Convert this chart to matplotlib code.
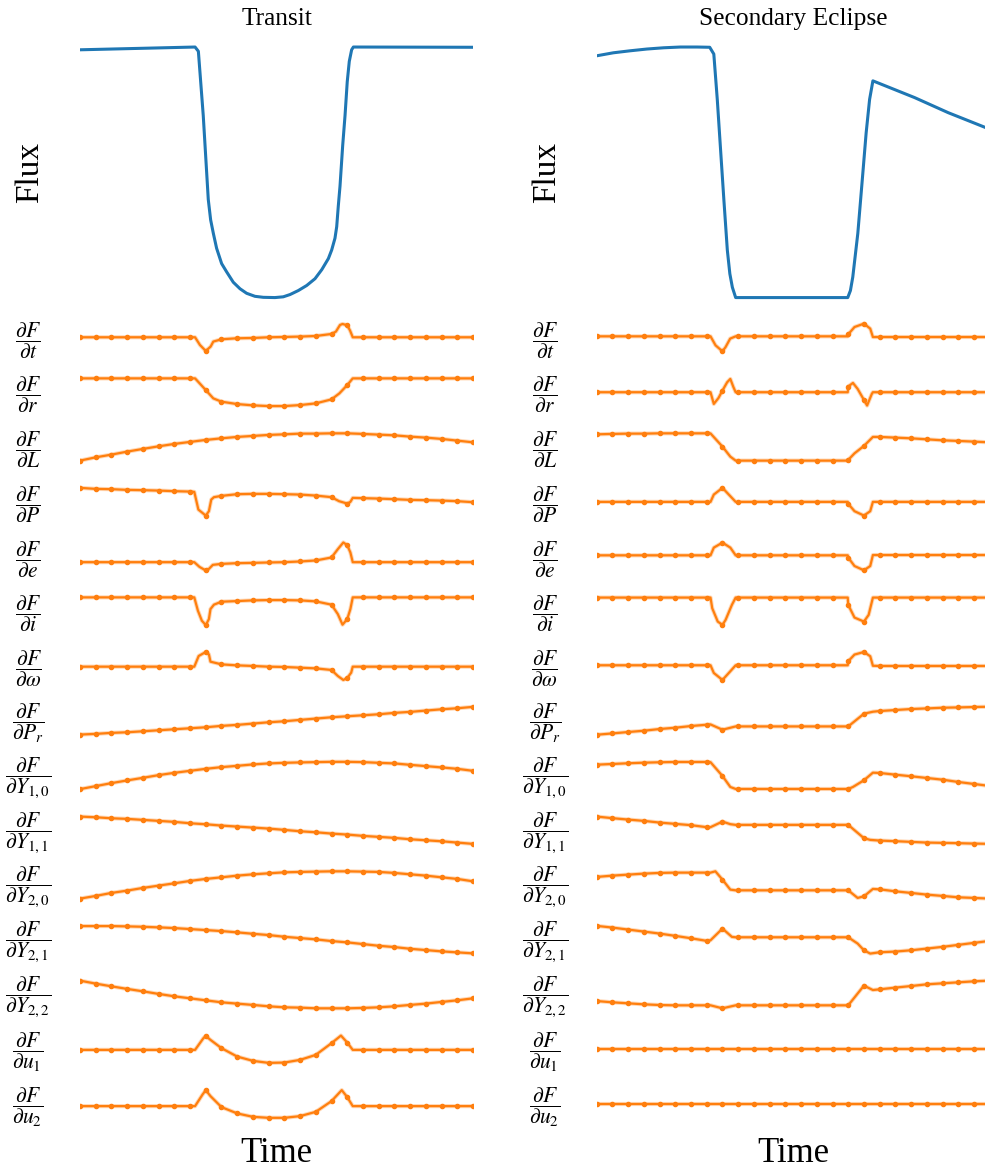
import numpy as np
import matplotlib
matplotlib.use("Agg")
import matplotlib.pyplot as plt

plt.rcParams['font.family'] = ['Liberation Serif', 'DejaVu Serif']
plt.rcParams['mathtext.fontset'] = 'stix'

# time of the 26 sampled points (same grid for both columns)
t_grid = np.arange(26)

# normalised flux curves (1 = out of eclipse top, 0 = bottom)
transit_t = [0, 7.32, 7.53, 7.84, 8.16, 8.31, 8.48, 8.69, 9.01, 9.33, 9.75, 10.18, 10.6,
             11.13, 11.66, 12.4, 12.93, 13.36, 13.89, 14.42, 14.95, 15.38, 15.8, 16.01,
             16.22, 16.33, 16.43, 16.54, 16.71, 16.86, 17.0, 17.13, 17.28, 17.39, 25]
transit_f = [0.985, 0.996, 0.979, 0.724, 0.390, 0.309, 0.256, 0.196, 0.135, 0.102, 0.061,
             0.035, 0.017, 0.005, 0.001, 0.0, 0.003, 0.012, 0.028, 0.048, 0.075, 0.111,
             0.155, 0.189, 0.236, 0.282, 0.363, 0.443, 0.604, 0.724, 0.858, 0.939, 0.985,
             0.996, 0.995]
eclipse_t = [0, 1.06, 2.13, 3.19, 4.26, 5.32, 6.39, 7.19, 7.45, 7.67, 7.88, 8.09, 8.31,
             8.47, 8.63, 8.84, 15.97, 16.14, 16.29, 16.61, 16.93, 17.14, 17.36, 17.57,
             20.23, 22.36, 25]
eclipse_f = [0.965, 0.977, 0.985, 0.992, 0.997, 1.0, 1.0, 0.999, 0.972, 0.791, 0.590, 0.390,
             0.189, 0.095, 0.041, 0.0, 0.0, 0.028, 0.082, 0.256, 0.497, 0.657, 0.791, 0.865,
             0.798, 0.738, 0.672]

labels = [r"$\dfrac{\partial F}{\partial t}$", r"$\dfrac{\partial F}{\partial r}$",
          r"$\dfrac{\partial F}{\partial L}$", r"$\dfrac{\partial F}{\partial P}$",
          r"$\dfrac{\partial F}{\partial e}$", r"$\dfrac{\partial F}{\partial i}$",
          r"$\dfrac{\partial F}{\partial \omega}$", r"$\dfrac{\partial F}{\partial P_r}$",
          r"$\dfrac{\partial F}{\partial Y_{1,0}}$", r"$\dfrac{\partial F}{\partial Y_{1,1}}$",
          r"$\dfrac{\partial F}{\partial Y_{2,0}}$", r"$\dfrac{\partial F}{\partial Y_{2,1}}$",
          r"$\dfrac{\partial F}{\partial Y_{2,2}}$", r"$\dfrac{\partial F}{\partial u_1}$",
          r"$\dfrac{\partial F}{\partial u_2}$"]

# ---- transit derivatives (arbitrary units): values on grid + extra fine points
tr_dt = [0]*8 + [-13.7, -2, -1, -0.7, 0, 0.3, 0.7, 1.3, 3.3, 12] + [0]*8
tr_dt_x = [(7.32, 0), (7.63, -7.7), (8.31, -9.3), (8.48, -4.3), (16.28, 5.7), (16.54, 12.3),
           (16.7, 13.3), (17.18, 6.7), (17.35, 0)]
tr_dr = [0]*8 + [-11.7, -23.3, -25.7, -27, -27.7, -27.7, -26.7, -25, -21, -6.7] + [0]*8
tr_dr_x = [(7.32, 0), (8.48, -20), (16.5, -15), (17.35, 0)]
tr_dL = [0, 3.3, 6, 9, 11.7, 14.3, 16.7, 18.7, 20.7, 22.3, 23.7, 24.7, 25.7, 26.3, 27, 27,
         27.3, 27.3, 26.7, 26, 25.3, 24, 23, 21.7, 20, 18.3]
tr_dP = [0, -1, -1.3, -2, -2.3, -2.7, -3.3, -3.7, -27.7, -8, -6.3, -6, -6, -6.3, -6.7, -7.7,
         -9.3, -15.7, -10.3, -10.7, -11.3, -12, -12.3, -12.7, -13.3, -14.3]
tr_dP_x = [(7.27, -4), (7.53, -21.7), (8.2, -23.3), (8.35, -11.7), (8.52, -9.3),
           (16.48, -13.3), (17.2, -14), (17.35, -10)]
tr_de = [0]*8 + [-8.3, -1.7, -1, -0.7, -0.3, 0, 0.7, 1.7, 4.7, 17] + [0]*8
tr_de_x = [(7.27, 0), (7.6, -4.7), (8.2, -6.7), (8.45, -2.7), (16.4, 13), (16.75, 19.7),
           (17.2, 9.7), (17.35, 0)]
tr_di = [0]*8 + [-27.7, -4.3, -3.7, -3, -2.7, -2.7, -3, -4, -7.3, -21.7] + [0]*8
tr_di_x = [(7.27, 0), (7.5, -13.3), (7.75, -23.3), (8.2, -21.7), (8.3, -11.7), (8.52, -7.3),
           (16.4, -16.7), (16.7, -27.3), (17.2, -11.7), (17.35, 0)]
tr_dw = [0]*8 + [14.7, 2.3, 1.3, 0.7, 0, -0.3, -1, -1.7, -3.3, -11.3] + [0]*8
tr_dw_x = [(7.27, 0), (7.55, 10.7), (8.2, 12.3), (8.3, 5), (16.4, -9.3), (16.75, -13.3),
           (17.25, -6), (17.35, 0)]
tr_dPr = [0, 0.7, 1.7, 2.3, 3.3, 4.3, 5.3, 6.3, 7.3, 8.7, 9.7, 11, 12.3, 13.3, 14.7, 16,
          17.3, 18.3, 19.3, 20.3, 21.7, 22.7, 24, 25.3, 26.3, 27.7]
tr_dY10 = [0, 3, 6, 8.7, 11.3, 14, 16.3, 18.3, 20.3, 22, 23.3, 24.7, 25.7, 26.3, 26.7, 27,
           27.3, 27.3, 27, 26.3, 25.7, 24.3, 23, 21.7, 20.3, 18.3]
tr_dY11 = [0, -0.7, -1.7, -2.3, -3.3, -4.3, -5.3, -6.7, -7.7, -9, -10, -11, -12, -13.3, -14.7,
           -15.7, -17, -18, -19.3, -20.3, -21.3, -22.7, -23.7, -24.7, -26, -27.3]
tr_dY20 = [0, 2.7, 5.7, 8, 10.7, 13, 15.3, 17.7, 19.7, 21.3, 23, 24.3, 25.3, 26.3, 26.7, 27,
           27.3, 27.3, 27, 26.7, 25.7, 24.3, 23, 21.3, 19.7, 17.3]
tr_dY21 = [0, 0, 0, -0.3, -0.7, -1.3, -2, -3, -4, -5, -6.3, -7.7, -9, -10.7, -12, -13.3, -15,
           -16.3, -18, -19.7, -21, -22.7, -24, -25.3, -26.3, -27.3]
tr_dY22 = [0, -3, -5.7, -8.3, -10.7, -13.3, -15.7, -17.7, -19.7, -21.7, -23, -24.3, -25.7,
           -26.7, -27, -27.7, -27.7, -27.7, -27.3, -26.7, -25.7, -24.3, -23, -21.3, -19.7, -17.7]
tr_du1 = [0]*8 + [14, 1.7, -6.7, -11, -13, -12.7, -10, -5, 6.7, 7.3] + [0]*8
tr_du1_x = [(7.32, 0), (7.85, 11.7), (8.3, 10), (16.6, 14.3), (17.35, 0)]
tr_du2 = [0]*8 + [16, -1, -7.3, -10.7, -11.7, -11.7, -10, -5.7, 5, 9] + [0]*8
tr_du2_x = [(7.32, 0), (7.8, 11.7), (8.3, 10), (16.65, 16), (17.35, 0)]

# ---- secondary eclipse derivatives
ec_dt = [0]*8 + [-15] + [0]*7 + [2, 12.7] + [-0.7]*8
ec_dt_x = [(7.24, 0), (7.56, -9), (8.2, -10.7), (8.49, -2.3), (8.84, 0), (15.97, 0),
           (16.4, 9.3), (17.4, 7.7), (17.57, -0.7)]
ec_dr = [0]*8 + [1.7] + [0]*7 + [5.7, -7.7] + [0]*8
ec_dr_x = [(7.24, 0), (7.45, -11.7), (7.75, -5.7), (8.3, 10), (8.5, 13.3), (8.7, 5), (8.84, 0),
           (15.97, 0), (16.3, 9.3), (16.6, 3.3), (17.2, -13.3), (17.5, -1.7), (17.57, 0)]
ec_dL = [26.3, 26.7, 27, 27, 27.3, 27.3, 27.3, 27.3, 14] + [0]*7 + \
        [0.7, 14.7, 23.7, 23, 22.3, 21.3, 20.3, 19.7, 19, 18.3]
ec_dL_x = [(7.24, 27.2), (8.5, 4), (8.84, 0), (15.97, 0), (16.4, 7.3), (17.57, 23.7)]
ec_dP = [0]*8 + [14] + [0]*7 + [-2, -13.7] + [0]*8
ec_dP_x = [(7.24, 0), (7.45, 7.3), (8.2, 10.7), (8.84, 0), (15.97, 0), (16.4, -9.3),
           (17.4, -9.3), (17.57, 0)]
ec_de = [0]*8 + [12.7] + [0]*7 + [-2.3, -15] + [0.3]*8
ec_de_x = [(7.24, 0), (7.45, 7.7), (8.5, 7.7), (8.84, 0), (15.97, 0), (16.4, -10.7),
           (17.4, -10.7), (17.57, 0.3)]
ec_di = [0]*8 + [-27.3] + [0]*7 + [-7.3, -24] + [0]*8
ec_di_x = [(7.24, 0), (7.35, -10.7), (7.7, -24), (8.2, -22.3), (8.6, -7.3), (8.84, 0),
           (15.97, 0), (16.4, -20), (17.3, -17.3), (17.57, 0)]
ec_dw = [0]*8 + [-14.7] + [0]*7 + [4, 13.3] + [-0.7]*8
ec_dw_x = [(7.24, 0), (7.45, -7.7), (8.5, -6), (8.84, 0), (15.97, 0), (16.4, 10.7),
           (17.4, 9), (17.57, -0.5)]
ec_dPr = [0, 1.3, 2.7, 4, 5.7, 7, 8.7, 10, 5] + [8.3]*8 + \
         [21, 23.7, 24.7, 25.7, 26.3, 27, 27.3, 27.7, 28]
ec_dPr_x = [(7.24, 10.3), (8.84, 8.3), (15.97, 8.3), (17.57, 23)]
ec_dY10 = [24.3, 25, 25.7, 26.3, 26.7, 27, 27, 27, 13] + [0]*8 + \
          [8.7, 16, 14.3, 12.7, 11, 9.3, 7, 5, 3]
ec_dY10_x = [(7.24, 26.8), (8.5, 2), (8.84, 0), (15.97, 0), (16.3, 2), (17.57, 16.3)]
ec_dY11 = [27.3, 25.7, 24.3, 23, 21.3, 20, 18.7, 16.7, 22.3] + [19]*8 + \
          [5.7, 3.3, 2.7, 2, 1.3, 1, 0.7, 0.3, 0]
ec_dY11_x = [(7.24, 16.7), (8.5, 19.7), (8.84, 19), (15.97, 19), (17.4, 4)]
ec_dY20 = [21.7, 23, 24, 25, 25.7, 26, 26, 26, 19] + [8.3]*8 + \
          [2.3, 9.3, 7.3, 5.7, 4, 2.7, 1.3, 0.7, 0]
ec_dY20_x = [(7.24, 26), (7.55, 27.3), (8.5, 9), (8.84, 8.3), (15.97, 8.3), (16.6, 0.7),
             (17.57, 9.7)]
ec_dY21 = [27.7, 26, 24, 22, 20, 17.7, 15.3, 12.7, 25] + [16.3]*8 + \
          [3.3, 1.3, 2, 3.3, 5, 6.7, 8.7, 10.7, 12.7]
ec_dY21_x = [(7.24, 13.3), (8.6, 16.7), (8.84, 16.3), (15.97, 16.3), (16.6, 10), (17.4, 0)]
ec_dY22 = [7.3, 6, 5, 4, 3.3, 3, 3, 3, 0] + [3]*8 + \
          [22.7, 19, 20.7, 22.3, 24, 25, 26, 27, 27.7]
ec_dY22_x = [(7.24, 3), (8.84, 3), (15.97, 3), (17.57, 18.3)]
ec_du1 = [0]*26
ec_du2 = [0]*26

transit_rows = [(tr_dt, tr_dt_x), (tr_dr, tr_dr_x), (tr_dL, []), (tr_dP, tr_dP_x),
                (tr_de, tr_de_x), (tr_di, tr_di_x), (tr_dw, tr_dw_x), (tr_dPr, []),
                (tr_dY10, []), (tr_dY11, []), (tr_dY20, []), (tr_dY21, []), (tr_dY22, []),
                (tr_du1, tr_du1_x), (tr_du2, tr_du2_x)]
eclipse_rows = [(ec_dt, ec_dt_x), (ec_dr, ec_dr_x), (ec_dL, ec_dL_x), (ec_dP, ec_dP_x),
                (ec_de, ec_de_x), (ec_di, ec_di_x), (ec_dw, ec_dw_x), (ec_dPr, ec_dPr_x),
                (ec_dY10, ec_dY10_x), (ec_dY11, ec_dY11_x), (ec_dY20, ec_dY20_x),
                (ec_dY21, ec_dY21_x), (ec_dY22, ec_dY22_x), (ec_du1, []), (ec_du2, [])]

W, H = 985, 1173
fig = plt.figure(figsize=(W/100, H/100), dpi=100)


def clean(ax):
    ax.set_xticks([])
    ax.set_yticks([])
    for s in ax.spines.values():
        s.set_visible(False)


row_h = 54.75
top0 = 310.1
columns = [(80.0, "Transit", transit_t, transit_f, transit_rows),
           (596.7, "Secondary Eclipse", eclipse_t, eclipse_f, eclipse_rows)]

for x0, title, ft, ff, rows in columns:
    # flux panel
    ax = fig.add_axes([x0/W, 1 - top0/H, 393/W, (top0 - 34.5)/H])
    ax.plot(ft, ff, color="C0", lw=2.2)
    ax.set_xlim(0, 25)
    ax.set_title(title, fontsize=18.3, pad=7)
    ax.set_ylabel("Flux", fontsize=24, va="center")
    ax.yaxis.set_label_coords(-0.127, 0.5)
    clean(ax)

    for i, (vals, extra) in enumerate(rows):
        y_top = top0 + i*row_h
        ax = fig.add_axes([x0/W, 1 - (y_top + row_h)/H, 393/W, row_h/H])
        pts = sorted(list(zip(t_grid, vals)) + list(extra))
        lt = [p[0] for p in pts]
        lv = [p[1] for p in pts]
        ax.plot(lt, lv, color="C1", lw=3, alpha=0.3)
        ax.plot(lt, lv, color="C1", lw=1.6)
        ax.plot(t_grid, vals, "o", color="C1", ms=3)
        mid = (max(lv) + min(lv)) / 2
        ax.set_ylim(mid - row_h/2, mid + row_h/2)
        ax.set_xlim(0, 25)
        ax.set_ylabel(labels[i], fontsize=15.5, rotation=0, ha="center", va="center")
        ax.yaxis.set_label_coords(-0.132, 0.45)
        clean(ax)
        if i == len(rows) - 1:
            ax.set_xlabel("Time", fontsize=25, labelpad=4)

fig.savefig("out.png", dpi=100)
